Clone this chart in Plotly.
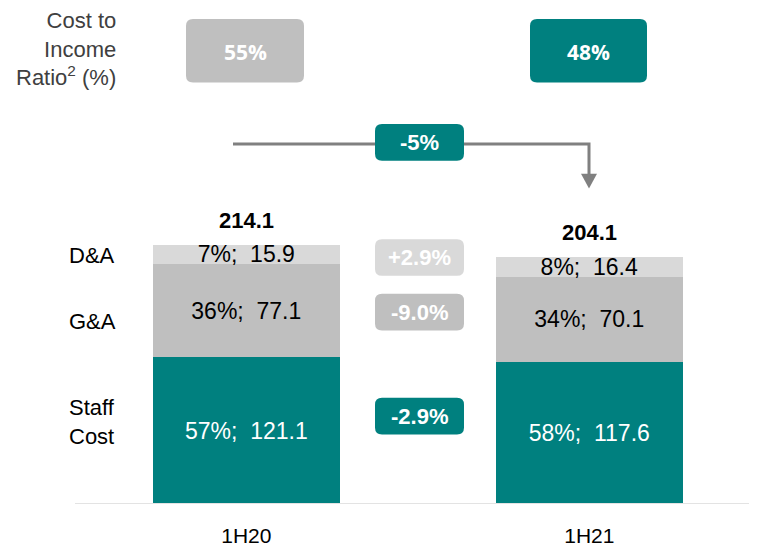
import plotly.graph_objects as go

# ---------------- data ----------------
categories = ["1H20", "1H21"]
staff_cost = [121.1, 117.6]
g_and_a = [77.1, 70.1]
d_and_a = [15.9, 16.4]
totals = [214.1, 204.1]
cost_income_ratio = ["55%", "48%"]
total_change = "-5%"
segment_labels = ["Staff<br>Cost", "G&A", "D&A"]
segment_changes = ["-2.9%", "-9.0%", "+2.9%"]

# ---------------- style ----------------
TEAL = "#00807F"
GRAY = "#BFBFBF"
LIGHT = "#D9D9D9"
ARROW = "#808080"
FONT = "Liberation Sans, Arial, sans-serif"

PAGE_OFF = 8                      # default body margin of the html page
W, H = 757 - PAGE_OFF, 547 - PAGE_OFF
PLOT_BOTTOM = 508                 # page pixel of the bar baseline
PLOT_H = PLOT_BOTTOM - PAGE_OFF
PX_PER_UNIT = 1.2205
CENTER0 = 246.3 - PAGE_OFF        # first bar centre (figure coords)
CAT_STEP = 343.0


def px(x):
    return (x - PAGE_OFF) / W


def py(y):
    return (PLOT_BOTTOM - y) / PLOT_H


def rounded_box(x0, y0, x1, y1, r=7):
    return (
        f"M {px(x0 + r)},{py(y0)} L {px(x1 - r)},{py(y0)} "
        f"Q {px(x1)},{py(y0)} {px(x1)},{py(y0 + r)} "
        f"L {px(x1)},{py(y1 - r)} Q {px(x1)},{py(y1)} {px(x1 - r)},{py(y1)} "
        f"L {px(x0 + r)},{py(y1)} Q {px(x0)},{py(y1)} {px(x0)},{py(y1 - r)} "
        f"L {px(x0)},{py(y0 + r)} Q {px(x0)},{py(y0)} {px(x0 + r)},{py(y0)} Z"
    )


def seg_text(vals):
    return [f"{round(v / t * 100)}%;  {v:.1f}" for v, t in zip(vals, totals)]


fig = go.Figure()
for vals, color, tcolor in [
    (staff_cost, TEAL, "white"),
    (g_and_a, GRAY, "black"),
    (d_and_a, LIGHT, "black"),
]:
    fig.add_trace(go.Bar(
        x=categories, y=vals, marker=dict(color=color, line=dict(width=0)),
        width=187 / CAT_STEP, text=seg_text(vals), textposition="inside",
        insidetextanchor="middle", textangle=0, constraintext="none",
        textfont=dict(family=FONT, size=23, color=tcolor),
        hoverinfo="skip", showlegend=False,
    ))

annotations = []
# totals above bars
for c, t in zip(categories, totals):
    annotations.append(dict(x=c, y=t, text=f"<b>{t:.1f}</b>", showarrow=False,
                            xanchor="center", yanchor="middle", yshift=24,
                            font=dict(family=FONT, size=22, color="black")))

shapes = []
# baseline
shapes.append(dict(type="line", xref="paper", yref="y", x0=px(75), x1=1, y0=0, y1=0,
                   line=dict(color="#E3E3E3", width=2), layer="above"))

# cost-to-income ratio boxes
for (x0, x1), val, col in zip([(186, 304), (530, 647)], cost_income_ratio, [GRAY, TEAL]):
    shapes.append(dict(type="path", xref="paper", yref="paper", path=rounded_box(x0, 19, x1, 83),
                       fillcolor=col, line=dict(width=0)))
    annotations.append(dict(xref="paper", yref="paper", x=px((x0 + x1) / 2), y=py(52),
                            xanchor="center", yanchor="middle",
                            text=f"<b>{val}</b>", showarrow=False,
                            font=dict(family="Open Sans, sans-serif", size=21, color="white")))

# arrow from 1H20 to 1H21
shapes.append(dict(type="path", xref="paper", yref="paper",
                   path=f"M {px(233)},{py(145)} L {px(589)},{py(145)} L {px(589)},{py(178)}",
                   line=dict(color=ARROW, width=3)))
shapes.append(dict(type="path", xref="paper", yref="paper",
                   path=f"M {px(581)},{py(175)} L {px(597)},{py(175)} L {px(589)},{py(190)} Z",
                   fillcolor=ARROW, line=dict(width=0)))
shapes.append(dict(type="path", xref="paper", yref="paper", path=rounded_box(375, 125, 464, 162),
                   fillcolor=TEAL, line=dict(width=0)))
annotations.append(dict(xref="paper", yref="paper", x=px(419.5), y=py(144),
                        xanchor="center", yanchor="middle", text=f"<b>{total_change}</b>",
                        showarrow=False, font=dict(family=FONT, size=22, color="white")))

# segment change boxes
for (y0, y1), val, col in zip([(401, 438), (296, 333), (241, 278)], segment_changes, [TEAL, GRAY, LIGHT]):
    shapes.append(dict(type="path", xref="paper", yref="paper", path=rounded_box(375, y0, 464, y1),
                       fillcolor=col, line=dict(width=0)))
    annotations.append(dict(xref="paper", yref="paper", x=px(419.5), y=py((y0 + y1) / 2),
                            xanchor="center", yanchor="middle",
                            text=f"<b>{val}</b>", showarrow=False,
                            font=dict(family=FONT, size=22, color="white")))

# segment labels on the left
for yc, lab in zip([425, 324, 257], segment_labels):
    annotations.append(dict(xref="paper", yref="paper", x=px(67), y=py(yc), xanchor="left",
                            yanchor="middle", align="left", text=lab, showarrow=False,
                            font=dict(family=FONT, size=22, color="black")))

# cost to income label
annotations.append(dict(xref="paper", yref="paper", x=px(118), y=py(49), xanchor="right",
                        yanchor="middle", align="right",
                        text="Cost to<br>Income<br>Ratio<sup>2</sup> (%)", showarrow=False,
                        font=dict(family=FONT, size=22, color="#404040")))

fig.update_layout(
    width=W, height=H, margin=dict(l=0, r=0, t=0, b=H - PLOT_H, pad=0),
    paper_bgcolor="white", plot_bgcolor="white", barmode="stack",
    shapes=shapes, annotations=annotations,
    xaxis=dict(type="category",
               range=[-CENTER0 / CAT_STEP, (W - CENTER0) / CAT_STEP],
               showgrid=False, zeroline=False, showline=False, ticks="",
               ticklabelstandoff=17,
               tickfont=dict(family=FONT, size=21, color="black")),
    yaxis=dict(range=[0, PLOT_H / PX_PER_UNIT], visible=False, showgrid=False, zeroline=False),
    showlegend=False,
)

fig.write_html("out.html")
